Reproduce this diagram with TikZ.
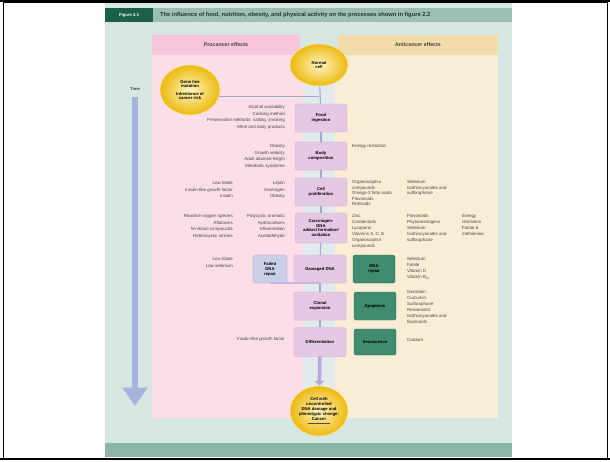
\documentclass[tikz,border=0pt]{standalone}
\usepackage{fontspec}
\setmainfont{Liberation Sans}
\usetikzlibrary{shapes.geometric,arrows.meta}
\definecolor{panelbg}{HTML}{D6E7E3}
\definecolor{titlebar}{HTML}{9DBFB3}
\definecolor{figgreen}{HTML}{1B6149}
\definecolor{footbar}{HTML}{8CB6A8}
\definecolor{profill}{HTML}{FCDEE9}
\definecolor{prohead}{HTML}{F8C6DB}
\definecolor{antifill}{HTML}{F9EDD5}
\definecolor{antihead}{HTML}{F3DBAA}
\definecolor{midstrip}{HTML}{E2EAEE}
\definecolor{stagefill}{HTML}{E4C8E4}
\definecolor{mechgreen}{HTML}{3F8C6F}
\definecolor{repairblue}{HTML}{CACFE8}
\definecolor{ballinner}{HTML}{FFF6C0}
\definecolor{ballouter}{HTML}{EDB90F}
\definecolor{goldedge}{HTML}{F7E7A0}
\definecolor{flowblue}{HTML}{9FAACB}
\definecolor{arrowlilac}{HTML}{B5A9D9}
\definecolor{timeblue}{HTML}{A7B3DA}
\definecolor{notetext}{HTML}{444444}
\definecolor{titletext}{HTML}{20392F}
\tikzset{
  stagebox/.style={fill=stagefill, draw=stagefill!85!black, line width=0.3pt,
    rounded corners=2pt, minimum width=2.6cm, minimum height=1.4cm,
    align=center, inner sep=1pt, font=\fontsize{6}{7}\selectfont\bfseries},
  greenbox/.style={stagebox, fill=mechgreen, draw=mechgreen!80!black, minimum width=2.1cm},
  repairbox/.style={stagebox, fill=repairblue, draw=repairblue!80!black, minimum width=1.7cm},
  cellball/.style={ellipse, draw=goldedge, line width=0.8pt, inner color=ballinner,
    outer color=ballouter, minimum width=2.9cm, minimum height=2.1cm,
    align=center, inner sep=0pt, font=\fontsize{6}{7}\selectfont\bfseries},
  pronote/.style={anchor=north east, align=right, inner sep=0pt, text=notetext,
    font=\fontsize{6.3}{9.2}\selectfont},
  antinote/.style={anchor=north west, align=left, inner sep=0pt, text=notetext,
    font=\fontsize{6.3}{8.3}\selectfont},
  headtext/.style={font=\fontsize{7.5}{9}\selectfont\bfseries, text=black!75},
  flowline/.style={draw=flowblue, line width=1.5pt},
}
\begin{document}
\begin{tikzpicture}[x=0.05cm, y=-0.05cm]
  \useasboundingbox (0,0) rectangle (610,461);
  % frame and panels
  \fill[white] (0,0) rectangle (610,461);
  \fill[panelbg] (105,3) rectangle (512,443);
  \fill[footbar] (105,443) rectangle (512,457);
  \fill[titlebar] (105,8) rectangle (512,22);
  \fill[figgreen] (105,8) rectangle (153,22);
  \fill[profill] (152,55) rectangle (303,418);
  \fill[prohead] (152,35) rectangle (300,55);
  \fill[antifill] (335,55) rectangle (498,418);
  \fill[antihead] (338,35) rectangle (498,55);
  \fill[midstrip] (303,55) rectangle (335,418);
  \draw[line width=0.8pt] (3,2) rectangle (607,458);
  \draw[line width=2.5pt] (0,1) -- (610,1);
  \draw[line width=1.5pt] (0,459) -- (610,459);
  \node[text=white, font=\fontsize{6}{7}\selectfont\bfseries] (figlabel) at (129,15) {Figure 2.3};
  \node[anchor=west, inner sep=0pt, text=titletext, font=\fontsize{8.2}{9}\selectfont\bfseries] (figtitle) at (160,15)
    {The influence of food, nutrition, obesity, and physical activity on the processes shown in figure 2.2};
  \node[headtext] (prohd) at (226,45) {Procancer effects};
  \node[headtext] (antihd) at (418,45) {Anticancer effects};
  % time arrow
  \node[font=\fontsize{6}{7}\selectfont\bfseries, text=black!75] (time) at (135,89) {Time};
  \coordinate (timeend) at (135,406);
  \draw[timeblue, line width=8pt, -{Triangle[length=26pt,width=34pt]}] (135,97) -- (timeend);
  % main sequence
  \node[cellball] (normal) at (319,65) {Normal\\cell};
  \node[cellball, minimum width=3cm, minimum height=2.5cm] (germ) at (190,90)
    {Germ line\\mutation\\[3pt]Inheritance of\\cancer risk};
  \node[stagebox] (food) at (321,118) {Food\\ingestion};
  \node[stagebox] (body) at (321,156) {Body\\composition};
  \node[stagebox] (prolif) at (321,192) {Cell\\proliferation};
  \node[stagebox, minimum height=1.5cm] (adduct) at (321,228) {Carcinogen-\\DNA\\adduct formation/\\oxidation};
  \node[stagebox] (dna) at (320,269) {Damaged DNA};
  \node[stagebox] (clonal) at (320,306) {Clonal\\expansion};
  \node[stagebox, minimum height=1.45cm] (diff) at (320,342) {Differentiation};
  \node[cellball, minimum height=2.5cm] (cancer) at (319,411)
    {Cell with\\uncontrolled\\DNA damage and\\phenotypic change:\\Cancer\\[-1pt]{\color{black!70}\rule{1.1cm}{1.6pt}}};
  \node[repairbox] (failrep) at (270,269) {Failed\\DNA\\repair};
  \node[greenbox] (dnarep) at (374,269) {DNA\\repair};
  \node[greenbox] (apopt) at (375,306) {Apoptosis};
  \node[greenbox, minimum height=1.3cm] (senesc) at (375,342) {Senescence};
  % connectors
  \draw[flowline] (germ.-12) -- (germ.-12 -| normal.south);
  \draw[flowline] (normal) -- (food);
  \draw[flowline] (food) -- (body);
  \draw[flowline] (body) -- (prolif);
  \draw[flowline] (prolif) -- (adduct);
  \draw[flowline] (adduct) -- (dna);
  \draw[flowline] (dna) -- (clonal);
  \draw[flowline] (clonal) -- (diff);
  \draw[draw=stagefill!90!blue, line width=3pt] (failrep.south) |- (dna.south);
  \draw[arrowlilac, line width=5pt, -{Triangle[length=7pt,width=13pt]}] (diff) -- (cancer);
  % procancer notes
  \node[pronote] (pro1) at (285,105.5) {Alcohol availability\\Cooking method\\Preservation methods: salting, smoking\\Meat and dairy products};
  \node[pronote] (pro2) at (285,144.5) {Obesity\\Growth velocity\\Adult attained height\\Metabolic syndrome};
  \node[pronote] (pro3a) at (233,181.5) {Low folate\\Insulin-like growth factor\\Insulin};
  \node[pronote] (pro3b) at (285,181.5) {Leptin\\Oestrogen\\Obesity};
  \node[pronote] (pro4a) at (233,214.5) {Reactive oxygen species\\Aflatoxins\\N-nitroso compounds\\Heterocyclic amines};
  \node[pronote] (pro4b) at (285,214.5) {Polycyclic aromatic\\hydrocarbons\\Inflammation\\Acetaldehyde};
  \node[pronote] (pro5) at (233,257.5) {Low folate\\Low selenium};
  \node[pronote] (pro7) at (285,337.5) {Insulin-like growth factor};
  % anticancer notes
  \node[antinote] (anti2) at (352,144.5) {Energy restriction};
  \node[antinote, font=\fontsize{6.3}{7.8}\selectfont] (anti3a) at (352,180.5) {Organosulphur\\compounds\\Omega-3 fatty acids\\Flavonoids\\Retinoids};
  \node[antinote, font=\fontsize{6.3}{7.8}\selectfont] (anti3b) at (407,180.5) {Selenium\\Isothiocyanates and\\sulforaphane};
  \node[antinote] (anti4a) at (352,214.5) {Zinc\\Carotenoids\\Lycopene\\Vitamins A, C, E\\Organosulphur\\compounds};
  \node[antinote] (anti4b) at (407,214.5) {Flavonoids\\Phytooestrogens\\Selenium\\Isothiocyanates and\\sulforaphane};
  \node[antinote] (anti4c) at (462,214.5) {Energy\\restriction\\Folate \&\\methionine};
  \node[antinote] (anti5) at (407,257.5) {Selenium\\Folate\\Vitamin D\\Vitamin B\textsubscript{12}};
  \node[antinote] (anti6) at (407,290.5) {Genistein\\Curcumin\\Sulforaphane\\Resveratrol\\Isothiocyanates and\\flavonoids};
  \node[antinote] (anti7) at (407,338.5) {Calcium};
\end{tikzpicture}
\end{document}
